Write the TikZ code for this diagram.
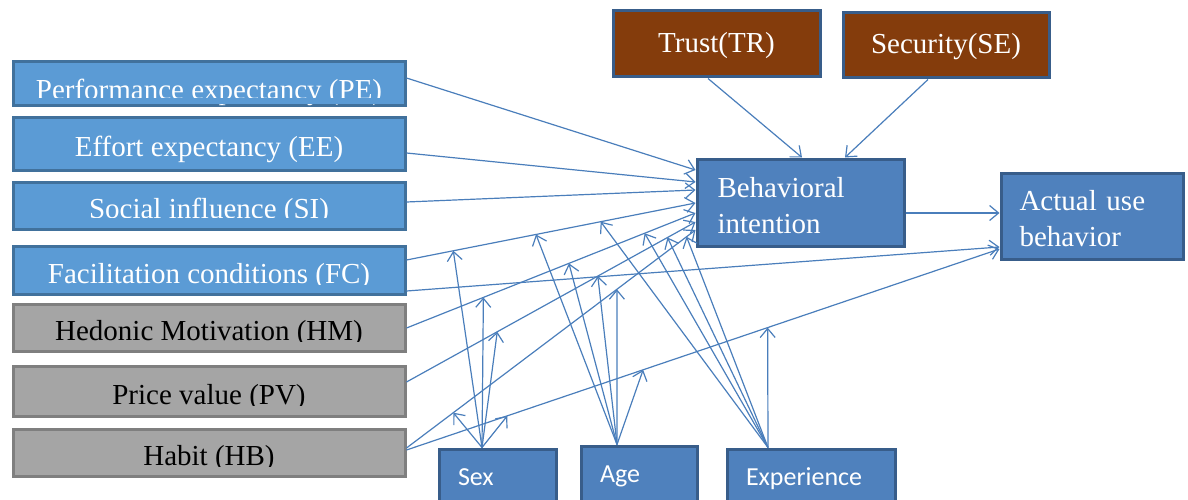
\documentclass[tikz,border=0pt]{standalone}
\usepackage{fontspec}
\setmainfont{Liberation Serif}
\newfontfamily\calibri{Carlito}
\usetikzlibrary{arrows.meta,calc}
\definecolor{lblue}{HTML}{5B9BD5}
\definecolor{lblueb}{HTML}{41719C}
\definecolor{dblue}{HTML}{4F81BD}
\definecolor{dblueb}{HTML}{385D8A}
\definecolor{trbrown}{HTML}{843C0C}
\definecolor{grayf}{HTML}{A5A5A5}
\definecolor{grayb}{HTML}{7F7F7F}
\definecolor{linec}{HTML}{4A7EBB}
\begin{document}
\begin{tikzpicture}[x=1pt,y=-1pt,
  box/.style={draw, line width=3pt, inner sep=0pt, font=\fontsize{29}{36}\selectfont},
  lbox/.style={box, fill=lblue, draw=lblueb, text=white, minimum width=392pt, text height=26pt, text depth=0pt},
  gbox/.style={box, fill=grayf, draw=grayb, text=black, minimum width=392pt, text height=26pt, text depth=0pt},
  bbox/.style={box, fill=trbrown, draw=dblueb, text=white, text height=22pt, text depth=5pt},
  dbox/.style={box, fill=dblue, draw=dblueb, text=white, align=left, text height=20pt},
  mbox/.style={box, fill=dblue, draw=dblueb, text=white, align=left, font=\calibri\fontsize{26}{30}\selectfont, inner xsep=19pt, minimum height=60pt, text height=18pt, text depth=6pt},
  con/.style={draw=linec, line width=1.2pt, -{Straight Barb[length=9pt,width=15pt]}}
]
\useasboundingbox (0,0) rectangle (1188,500);
\clip (0,0) rectangle (1188,500);

% left boxes
\node[lbox, minimum height=44pt, text height=32pt] (PE) at (209,84) {Performance expectancy (PE)};
\node[lbox, minimum height=52pt] (EE) at (209,144) {Effort expectancy (EE)};
\node[lbox, minimum height=47pt] (SI) at (209,205.5) {Social influence (SI)};
\node[lbox, minimum height=48pt] (FC) at (209,270) {Facilitation conditions (FC)};
\node[gbox, minimum height=47pt] (HM) at (209,327.5) {Hedonic Motivation (HM)};
\node[gbox, minimum height=50pt] (PV) at (209,391) {Price value (PV)};
\node[gbox, minimum height=47pt] (HB) at (209,452.5) {Habit (HB)};

% text cut-offs at the bottom of the boxes
\fill[lblue] (14.5,98) rectangle (403.5,104.5);
\fill[lblue] (14.5,218) rectangle (403.5,227.5);
\fill[lblue] (14.5,285) rectangle (403.5,292.5);
\fill[grayf] (14.5,342) rectangle (403.5,349.5);
\fill[grayf] (14.5,406) rectangle (403.5,414.5);
\fill[grayf] (14.5,467) rectangle (403.5,474.5);

% top boxes
\node[bbox, minimum width=207pt, minimum height=66pt] (TR) at (716.5,44) {Trust(TR)};
\node[bbox, minimum width=206pt, minimum height=65pt] (SE) at (946,45.5) {Security(SE)};

% right boxes
\node[dbox, text width=166pt, inner xsep=20.5pt, minimum height=87pt, text depth=31pt] (BI) at (800.5,202.5) {Behavioral\\intention};
\node[dbox, text width=145pt, inner xsep=18.5pt, minimum height=86pt, text depth=32pt] (AU) at (1092,216) {Actual use\\behavior};

% moderators
\node[mbox, text width=79pt] (Sex) at (497.5,479) {Sex};
\node[mbox, text width=78pt] (Age) at (639,476) {Age};
\node[mbox, text width=130pt] (Exp) at (811,479) {Experience};

% main connectors
\draw[con] ($(PE.east)+(0,-6)$) -- ($(BI.west)+(0,-32.5)$);
\draw[con] ($(EE.east)+(0,9)$) -- ($(BI.west)+(0,-20.5)$);
\draw[con] ($(SI.east)+(0,-3.5)$) -- ($(BI.west)+(0,-12.5)$);
\draw[con] ($(FC.east)+(0,-10)$) -- coordinate[pos=0.162](fcS) coordinate[pos=0.448](fcA) coordinate[pos=0.672](fcE) ($(BI.west)+(0,0.5)$);
\draw[con] ($(HM.east)+(0,0.5)$) -- coordinate[pos=0.266](hmS) coordinate[pos=0.562](hmA) coordinate[pos=0.824](hmE) ($(BI.west)+(0,10.5)$);
\draw[con] ($(PV.east)+(0,-9)$) -- coordinate[pos=0.314](pvS) coordinate[pos=0.662](pvA) coordinate[pos=0.903](pvE) ($(BI.west)+(0,19.5)$);
\draw[con] ($(HB.east)+(0,-4.5)$) -- coordinate[pos=0.162](hbS) coordinate[pos=0.728](hbA) coordinate[pos=0.969](hbE) ($(BI.west)+(0,27.5)$);
\draw[con] ($(FC.east)+(0,21)$) -- ($(AU.west)+(0,31)$);
\draw[con] ($(HB.east)+(0,-2.5)$) -- coordinate[pos=0.170](auS) coordinate[pos=0.399](auA) coordinate[pos=0.609](auE) ($(AU.west)+(0,33)$);
\draw[con] ($(BI.east)+(0,10.5)$) -- ($(AU.west)+(0,-3)$);
\draw[con] ($(TR.south)+(-8.5,0)$) -- ($(BI.north)+(1.5,0)$);
\draw[con] ($(SE.south)+(-18,0)$) -- ($(BI.north)+(44.5,0)$);

% moderator connectors
\coordinate (sx) at ($(Sex.north)+(-15.5,0)$);
\coordinate (ax) at ($(Age.north)+(-22,0)$);
\coordinate (ex) at ($(Exp.north)+(-43,0)$);
\foreach \t in {fcS,hmS,pvS,hbS,auS} \draw[con] (sx) -- (\t);
\foreach \t in {fcA,hmA,pvA,hbA,auA} \draw[con] (ax) -- (\t);
\foreach \t in {fcE,hmE,pvE,hbE,auE} \draw[con] (ex) -- (\t);
\end{tikzpicture}
\end{document}
